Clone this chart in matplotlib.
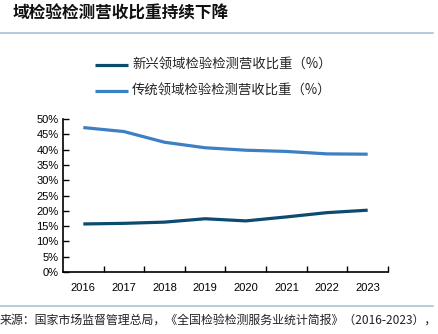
import matplotlib.pyplot as plt
import matplotlib.lines as mlines

plt.rcParams['font.family'] = ['Liberation Sans', 'Noto Sans CJK SC', 'DejaVu Sans']

years = ['2016', '2017', '2018', '2019', '2020', '2021', '2022', '2023']
emerging = [15.7, 15.9, 16.3, 17.4, 16.7, 18.0, 19.4, 20.2]
traditional = [47.2, 45.9, 42.4, 40.6, 39.8, 39.4, 38.6, 38.5]
label_new = '新兴领域检验检测营收比重（%）'
label_old = '传统领域检验检测营收比重（%）'
title = '域检验检测营收比重持续下降'
source = '来源：国家市场监督管理总局，《全国检验检测服务业统计简报》（2016-2023），'

c_dark = '#0c4a70'
c_light = '#3d7fc3'
c_rule = '#a9c4d4'

fig = plt.figure(figsize=(4.39, 3.34), dpi=100)
ax = fig.add_axes([63/439, 62/334, 325/439, 153/334])

x = list(range(len(years)))
ax.plot(x, emerging, color=c_dark, lw=2.3, solid_capstyle='butt')
ax.plot(x, traditional, color=c_light, lw=2.3, solid_capstyle='butt')

ax.set_xlim(-0.5, len(years) - 0.5)
ax.set_ylim(0, 50)
ax.set_yticks(range(0, 51, 5))
ax.set_yticklabels([f'{v}%' for v in range(0, 51, 5)], fontsize=8)
ax.set_xticks([i + 0.5 for i in x])
ax.set_xticklabels([])
ax.set_xticks(x, minor=True)
ax.set_xticklabels(years, minor=True, fontsize=8)
ax.tick_params(axis='x', which='minor', length=0, pad=8)
ax.tick_params(axis='both', which='major', direction='in', length=4, width=1, color='black')
ax.tick_params(axis='y', pad=3)
for s in ['top', 'right']:
    ax.spines[s].set_visible(False)
for s in ['left', 'bottom']:
    ax.spines[s].set_linewidth(1.2)

# legend
for yy, col, lab in [(65, c_dark, label_new), (91, c_light, label_old)]:
    yf = 1 - yy / 334
    fig.add_artist(mlines.Line2D([95/439, 128/439], [yf, yf], color=col, lw=2.3,
                                 solid_capstyle='butt'))
    fig.text(132/439, yf, lab, fontsize=9.6, va='center', ha='left',
             family=['Noto Sans CJK SC', 'DejaVu Sans'], color='#222222')

# title and rules
fig.text(13/439, 1 - 14/334, title, fontsize=12, fontweight='bold', va='center', ha='left',
         family=['Noto Sans CJK SC', 'DejaVu Sans'], color='#111111')
fig.add_artist(mlines.Line2D([0, 433/439], [1 - 33/334, 1 - 33/334], color=c_rule, lw=1.2))
fig.add_artist(mlines.Line2D([0, 433/439], [1 - 306/334, 1 - 306/334], color=c_rule, lw=1.2))
fig.text(0, 1 - 320/334, source, fontsize=8.6, va='center', ha='left',
         family=['Noto Sans CJK SC', 'DejaVu Sans'], color='#222222')

fig.savefig('out.png', dpi=100)
